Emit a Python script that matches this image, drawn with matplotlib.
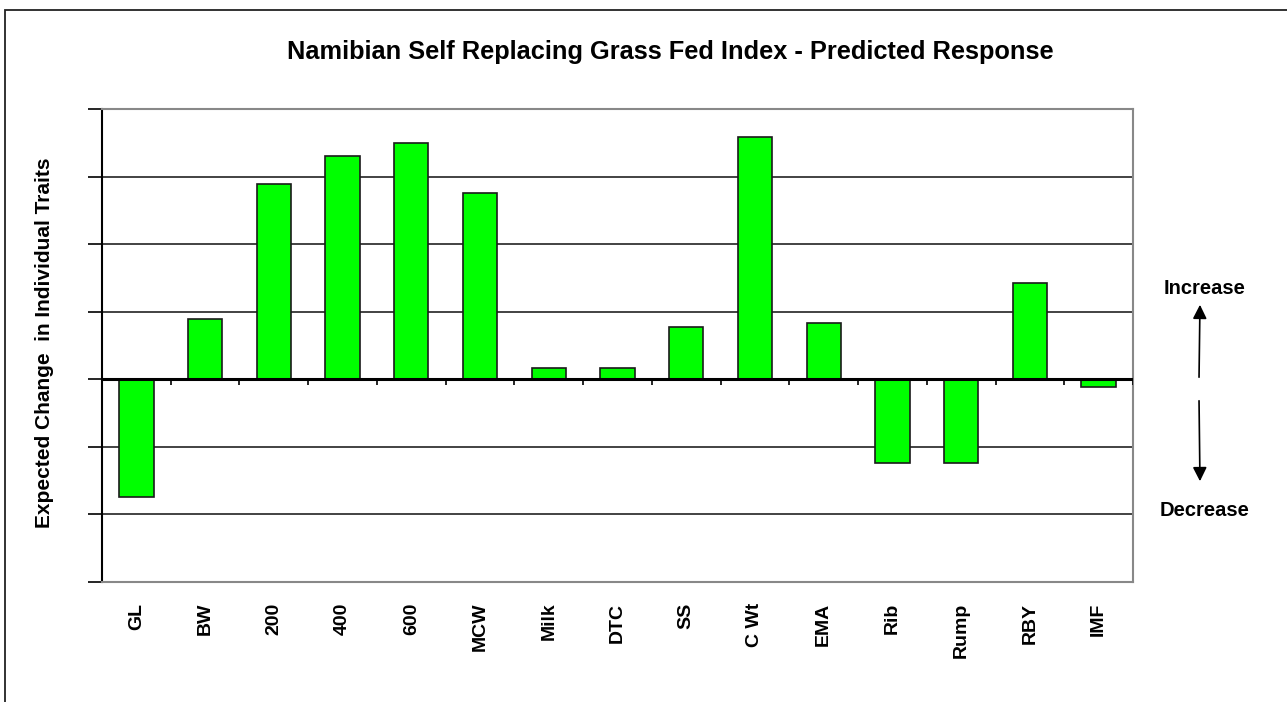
import matplotlib
matplotlib.use('Agg')
import matplotlib.pyplot as plt
from matplotlib.patches import Rectangle, FancyArrowPatch

plt.rcParams['font.family'] = ['Liberation Sans', 'DejaVu Sans']
plt.rcParams['font.weight'] = 'bold'

# traits and predicted response
traits = ['GL', 'BW', '200', '400', '600', 'MCW', 'Milk', 'DTC', 'SS',
          'C Wt', 'EMA', 'Rib', 'Rump', 'RBY', 'IMF']
response = [-1.74, 0.89, 2.89, 3.30, 3.49, 2.76, 0.17, 0.17, 0.77,
            3.58, 0.83, -1.24, -1.24, 1.42, -0.11]
y_ticks = [-3, -2, -1, 0, 1, 2, 3, 4]

W, H = 1287, 702
fig = plt.figure(figsize=(W / 100, H / 100), dpi=100)

# outer chart frame (only left/top visible in the picture)
fig.patches.append(Rectangle((5 / W, -0.1), 1.2, 1 - 10 / H + 0.1,
                             transform=fig.transFigure, fill=False,
                             edgecolor='#222222', linewidth=1.3))

ax = fig.add_axes([102 / W, 1 - 582 / H, (1133 - 102) / W, (582 - 109) / H])

x = list(range(len(traits)))
ax.bar(x, response, width=0.5, color='#00ff00', edgecolor='#1a1a1a',
       linewidth=1.2, zorder=3)

ax.set_xlim(-0.5, len(traits) - 0.5)
ax.set_ylim(y_ticks[0], y_ticks[-1])

# gridlines
for yv in y_ticks[1:-1]:
    if yv != 0:
        ax.axhline(yv, color='#222222', linewidth=1.2, zorder=1)
ax.axhline(0, color='black', linewidth=2.2, zorder=4)

# category boundary ticks on the zero line
bounds = [i - 0.5 for i in range(len(traits) + 1)]
ax.vlines(bounds, 0, -0.09, color='black', linewidth=1.2, zorder=4)

ax.set_yticks(y_ticks)
ax.set_yticklabels([])
ax.tick_params(axis='y', length=10, width=1.2, color='black', direction='out')
ax.set_xticks(x)
ax.set_xticklabels(traits, rotation=90, fontsize=14, fontweight='bold')
ax.tick_params(axis='x', length=0, pad=15)

for s in ['top', 'right', 'bottom']:
    ax.spines[s].set_color('#888888')
    ax.spines[s].set_linewidth(1.5)
ax.spines['left'].set_color('black')
ax.spines['left'].set_linewidth(1.5)

fig.text(670 / W, 1 - 52 / H, 'Namibian Self Replacing Grass Fed Index - Predicted Response',
         ha='center', va='center', fontsize=18.3, fontweight='bold')
fig.text(45 / W, 1 - 343 / H, 'Expected Change  in Individual Traits', rotation=90,
         ha='center', va='center', fontsize=15, fontweight='bold')

fig.text(1205 / W, 1 - 289 / H, 'Increase', ha='center', va='center',
         fontsize=14.5, fontweight='bold')
fig.text(1205 / W, 1 - 510 / H, 'Decrease', ha='center', va='center',
         fontsize=14.5, fontweight='bold')
fig.add_artist(FancyArrowPatch(
    (1199 / W, 1 - 380 / H), (1200 / W, 1 - 302 / H), transform=fig.transFigure,
    arrowstyle='-|>', mutation_scale=21, color='black', linewidth=1.2))
fig.add_artist(FancyArrowPatch(
    (1199 / W, 1 - 398 / H), (1200 / W, 1 - 484 / H), transform=fig.transFigure,
    arrowstyle='-|>', mutation_scale=21, color='black', linewidth=1.2))

fig.savefig('out.png', dpi=100, facecolor='white')
